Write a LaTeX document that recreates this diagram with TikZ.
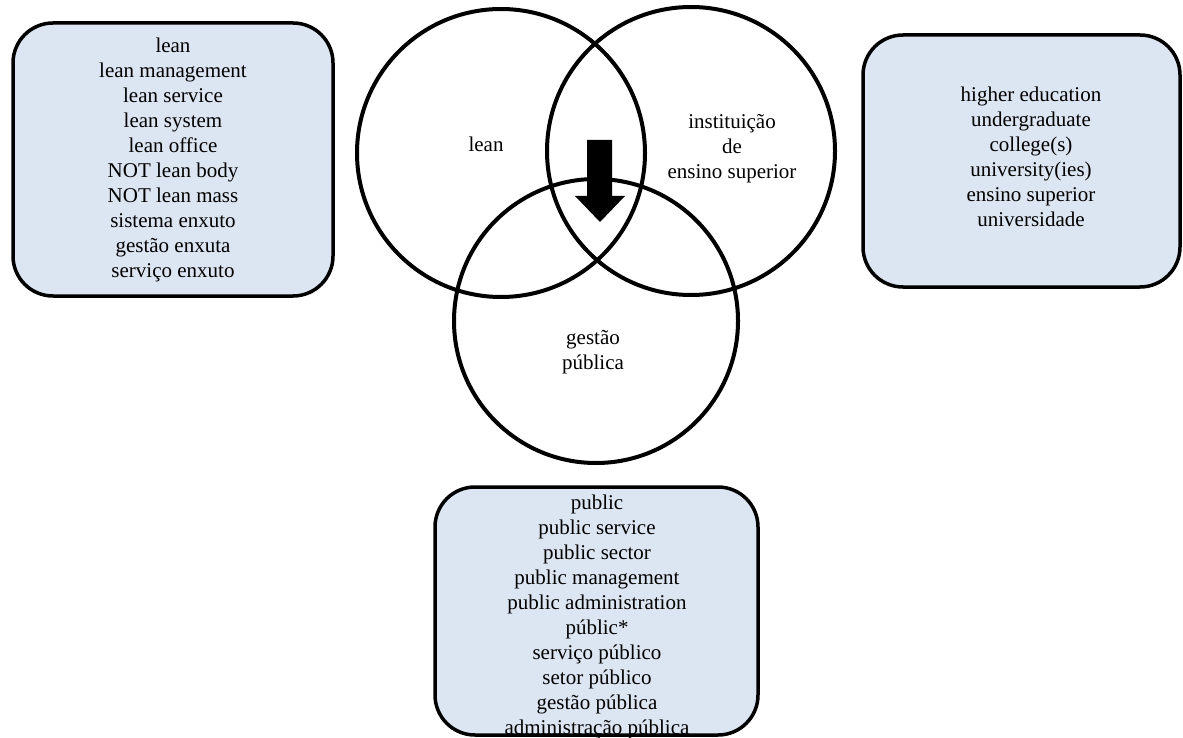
\documentclass[tikz,border=0pt]{standalone}
\usepackage{fontspec}
\setmainfont{Liberation Serif}
\definecolor{boxfill}{HTML}{DCE6F2}
\begin{document}
\begin{tikzpicture}[x=1pt,y=-1pt,
  termbox/.style={draw=black,line width=3.5pt,fill=boxfill,rounded corners=40pt,inner sep=0pt,outer sep=0pt},
  vennset/.style={circle,draw=black,line width=4pt,inner sep=0pt},
  termtext/.style={align=center,inner sep=0pt,font=\fontsize{21}{25}\selectfont}]
\useasboundingbox (0,0) rectangle (1183,738);
% term boxes
\node[termbox,minimum width=320pt,minimum height=273pt] (leanbox) at (173,159.5) {};
\node[termbox,minimum width=317pt,minimum height=252pt] (iesbox) at (1021.5,161) {};
\node[termbox,minimum width=323pt,minimum height=248pt] (pubbox) at (596.5,611) {};
\node[termtext] (leanterms) at (173,159.5) {lean\\lean management\\lean service\\lean system\\lean office\\NOT lean body\\NOT lean mass\\sistema enxuto\\gestão enxuta\\serviço enxuto};
\node[termtext] (iesterms) at (1031,156.5) {higher education\\undergraduate\\college(s)\\university(ies)\\ensino superior\\universidade};
\node[termtext] (pubterms) at (597,616.5) {public\\public service\\public sector\\public management\\public administration\\públic*\\serviço público\\setor público\\gestão pública\\administração pública};
% venn circles
\node[vennset,minimum size=288pt] (leanset) at (501,153) {};
\node[vennset,minimum size=288pt] (iesset) at (691,151) {};
\node[vennset,minimum size=284pt] (pubset) at (596,321) {};
\node[termtext,anchor=base] (leanlabel) at (486,152) {lean};
\node[termtext] (ieslabel) at (732,149) {instituição\\de\\ensino superior};
\node[termtext] (publabel) at (593,352.5) {gestão\\pública};
% arrow
\fill[black] (587,140) -- (612,140) -- (612,196) -- (625,196) -- (600,222) -- (575,196) -- (587,196) -- cycle;
\end{tikzpicture}
\end{document}
